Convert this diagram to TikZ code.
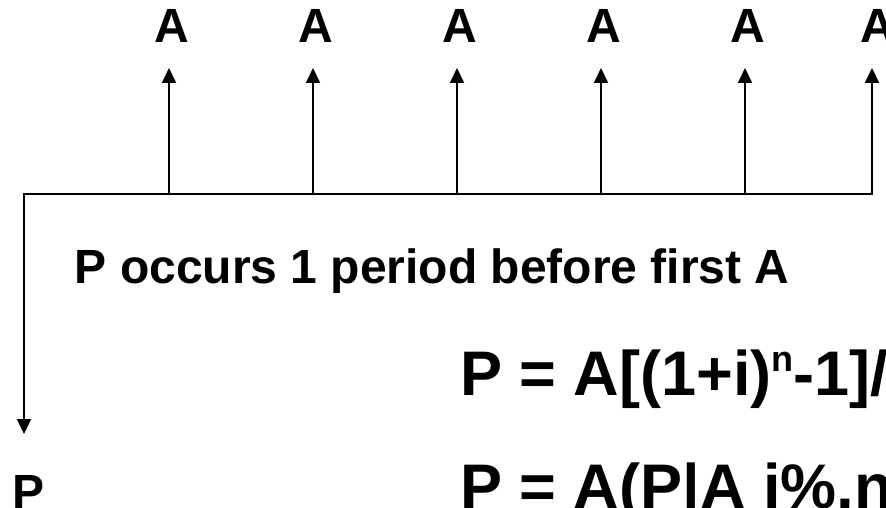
\documentclass[tikz,border=0pt]{standalone}
\usepackage{fontspec}
\setmainfont{Liberation Sans}
\usetikzlibrary{arrows.meta}
\tikzset{
  axisline/.style={line width=2pt, line cap=rect},
  flow/.style={line width=2pt, -{Triangle[length=15pt,width=14pt]}},
  lbl/.style={inner sep=0pt, font=\fontsize{48}{58}\selectfont\bfseries},
  eqn/.style={inner sep=0pt, anchor=base west, font=\fontsize{63}{75}\selectfont\bfseries},
}
\begin{document}
\begin{tikzpicture}[x=1pt,y=-1pt]
\path[use as bounding box, fill=white] (0,0) rectangle (886,508);
\clip (0,0) rectangle (886,508);
% axis
\coordinate (c0) at (24,194);
\coordinate (cend) at (872,194);
\draw[axisline] (c0) -- (cend);
% cash flows A
\foreach \i/\x/\ax in {1/169/172, 2/313/316, 3/457/460, 4/601/604, 5/745/748, 6/872/878} {
  \coordinate (b\i) at (\x,194);
  \coordinate (t\i) at (\x,68);
  \node[lbl, anchor=base] (a\i) at (\ax,43) {A};
  \draw[flow] (b\i) -- (t\i);
}
% P down arrow
\coordinate (pt) at (24,434);
\draw[flow] (c0) -- (pt);
\node[lbl, anchor=base west] (p) at (12.5,508) {P};
% note
\node[lbl, anchor=base west] (note) at (74.5,283) {P occurs 1 period before first A};
% formulas
\node[eqn] (f1) at (460,395) {P = A[(1+i)\raisebox{24pt}{\fontsize{36}{40}\selectfont n}-1]/[i(1+i)\raisebox{24pt}{\fontsize{36}{40}\selectfont n}]};
\node[eqn] (f2) at (460,508) {P = A(P|A i\%,n)};
\end{tikzpicture}
\end{document}
